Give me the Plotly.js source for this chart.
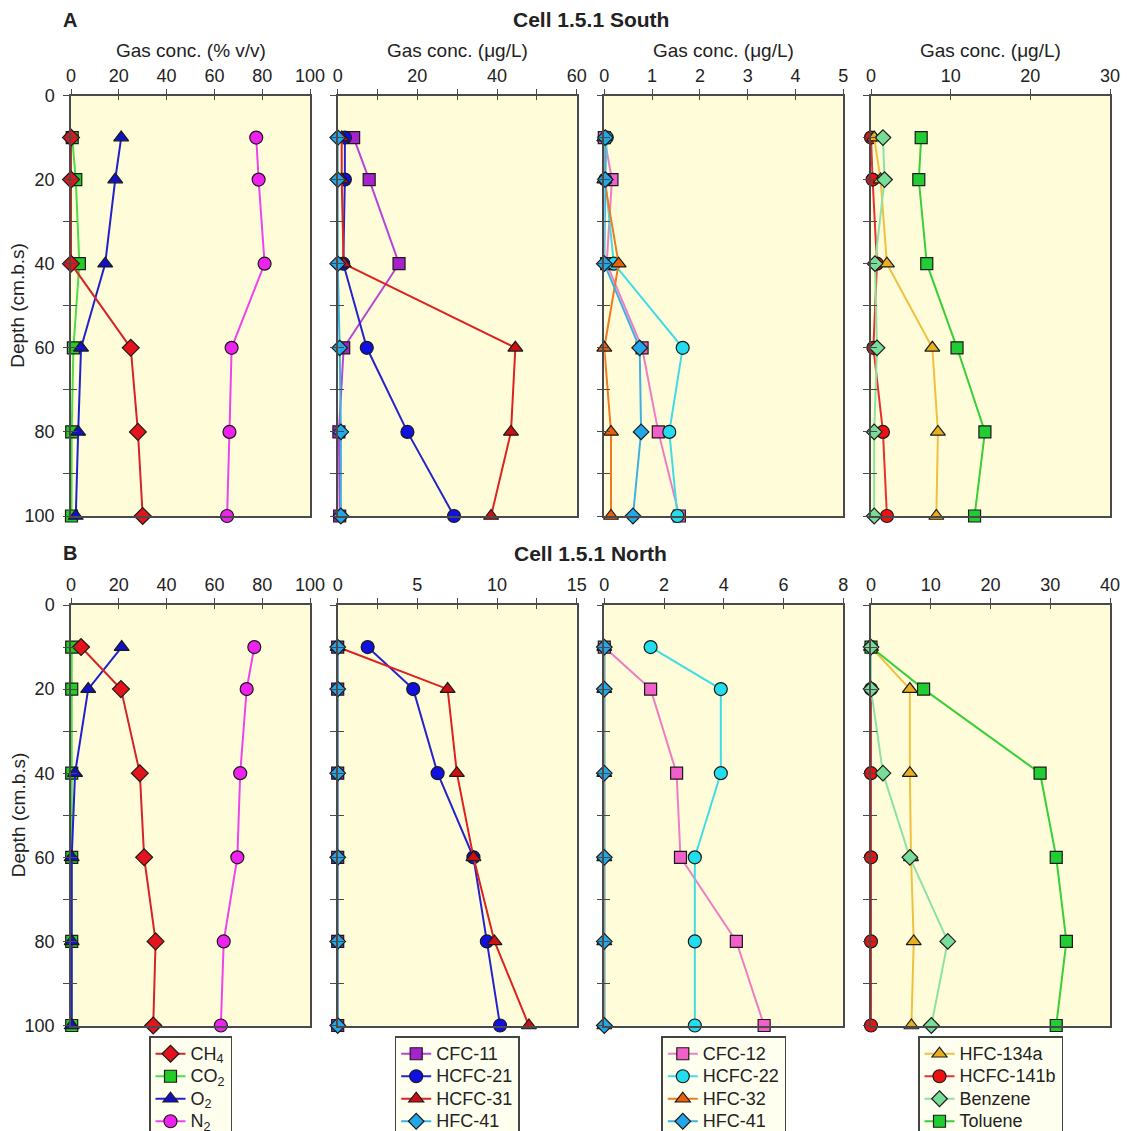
<!DOCTYPE html>
<html>
<head>
<meta charset="utf-8">
<script src="https://cdn.plot.ly/plotly-3.0.1.min.js"></script>
<style>html,body{margin:0;padding:0;background:#fff;}</style>
</head>
<body>
<div id="chart" style="width:1127px;height:1131px;"></div>
<script>
// Sampling depths (cm below surface)
const depth = [10, 20, 40, 60, 80, 100];

// ---- Cell 1.5.1 South ----
// bulk gases (% v/v)
const southCH4 = [0, 0, 0, 25, 28, 30];
const southCO2 = [0.5, 2, 3.5, 1, 0.3, 0.2];
const southO2 = [21, 18.5, 14.3, 4.2, 3, 2];
const southN2 = [77.5, 78.5, 81, 67.2, 66.3, 65.3];
// CFC-11 and its degradation products (µg/L)
const southCFC11 = [4.0, 7.9, 15.4, 1.5, 0.3, 0.5];
const southHCFC21 = [1.8, 1.8, 1.4, 7.3, 17.5, 29.2];
const southHCFC31 = [1, 1, 1.5, 44.6, 43.5, 38.5];
const southHFC41a = [0, 0, 0, 0.5, 0.8, 0.8];
// CFC-12 and its degradation products (µg/L)
const southCFC12 = [0, 0.16, 0.05, 0.79, 1.13, 1.57];
const southHCFC22 = [0.05, 0.02, 0.2, 1.64, 1.36, 1.53];
const southHFC32 = [0, 0, 0.3, 0, 0.14, 0.14];
const southHFC41b = [0.02, 0.02, 0, 0.74, 0.77, 0.6];
// other halocarbons and aromatics (µg/L)
const southHFC134a = [0.4, 1.2, 2.0, 7.7, 8.4, 8.2];
const southHCFC141b = [0, 0.2, 0.75, 0.3, 1.5, 2.0];
const southBenzene = [1.5, 1.7, 0.5, 0.75, 0.4, 0.4];
const southToluene = [6.3, 6.0, 7.0, 10.8, 14.3, 13.0];

// ---- Cell 1.5.1 North ----
const northCH4 = [4.2, 20.9, 28.8, 30.6, 35.4, 34.4];
const northCO2 = [0.3, 0.3, 0.3, 0.3, 0.3, 0.3];
const northO2 = [21.2, 7.2, 1.7, 0.3, 0.3, 0.3];
const northN2 = [76.7, 73.5, 70.8, 69.6, 63.9, 62.7];
const northCFC11 = [0, 0, 0, 0, 0, 0];
const northHCFC21 = [1.88, 4.74, 6.27, 8.52, 9.36, 10.19];
const northHCFC31 = [0, 6.9, 7.48, 8.52, 9.84, 12.0];
const northHFC41a = [0, 0, 0, 0, 0, 0];
const northCFC12 = [0, 1.55, 2.42, 2.55, 4.42, 5.35];
const northHCFC22 = [1.55, 3.9, 3.9, 3.03, 3.03, 3.03];
const northHFC32 = [0, 0, 0, 0, 0, 0];
const northHFC41b = [0, 0, 0, 0, 0, 0];
const northHFC134a = [0, 6.5, 6.5, 6.7, 7.15, 6.76];
const northHCFC141b = [0, 0, 0, 0, 0, 0];
const northBenzene = [0, 0, 2.0, 6.5, 12.85, 10.1];
const northToluene = [0, 8.8, 28.3, 31.0, 32.7, 31.0];

// Series labels
const labels = {
  CH4: 'CH<sub>4</sub>', CO2: 'CO<sub>2</sub>', O2: 'O<sub>2</sub>', N2: 'N<sub>2</sub>',
  CFC11: 'CFC-11', HCFC21: 'HCFC-21', HCFC31: 'HCFC-31', HFC41: 'HFC-41',
  CFC12: 'CFC-12', HCFC22: 'HCFC-22', HFC32: 'HFC-32',
  HFC134a: 'HFC-134a', HCFC141b: 'HCFC-141b', Benzene: 'Benzene', Toluene: 'Toluene'
};

// Styles: marker symbol, marker fill, line colour
const styles = {
  CH4:      {symbol: 'diamond', size: 13, fill: '#E3141C', line: '#D42429'},
  CO2:      {symbol: 'square', size: 12, fill: '#22CC22', line: '#4CDD4C'},
  O2:       {symbol: 'triangle-up', size: 13, fill: '#1212C4', line: '#2020CC'},
  N2:       {symbol: 'circle', size: 13, fill: '#EE22EE', line: '#EE44EE'},
  CFC11:    {symbol: 'square', size: 12, fill: '#A822CC', line: '#B544D8'},
  HCFC21:   {symbol: 'circle', size: 13, fill: '#1010E0', line: '#2424CC'},
  HCFC31:   {symbol: 'triangle-up', size: 13, fill: '#CC1111', line: '#DD2222'},
  HFC41:    {symbol: 'diamond', size: 12, fill: '#22A8E8', line: '#3DB0E4'},
  CFC12:    {symbol: 'square', size: 12, fill: '#F060C8', line: '#F07CC4'},
  HCFC22:   {symbol: 'circle', size: 13, fill: '#22DDEE', line: '#40DCE6'},
  HFC32:    {symbol: 'triangle-up', size: 13, fill: '#E8600A', line: '#F07A22'},
  HFC134a:  {symbol: 'triangle-up', size: 13, fill: '#E8B020', line: '#F0C040'},
  HCFC141b: {symbol: 'circle', size: 13, fill: '#EE1111', line: '#E83030'},
  Benzene:  {symbol: 'diamond', size: 12, fill: '#77DD99', line: '#8CE2A6'},
  Toluene:  {symbol: 'square', size: 12, fill: '#22CC33', line: '#38D038'}
};

// Panel groups: series keys in drawing order; legend order given separately
const groups = [
  {draw: ['N2', 'CO2', 'O2', 'CH4'], legend: ['CH4', 'CO2', 'O2', 'N2'],
   south: {CH4: southCH4, CO2: southCO2, O2: southO2, N2: southN2},
   north: {CH4: northCH4, CO2: northCO2, O2: northO2, N2: northN2}},
  {draw: ['CFC11', 'HCFC21', 'HCFC31', 'HFC41'], legend: ['CFC11', 'HCFC21', 'HCFC31', 'HFC41'],
   south: {CFC11: southCFC11, HCFC21: southHCFC21, HCFC31: southHCFC31, HFC41: southHFC41a},
   north: {CFC11: northCFC11, HCFC21: northHCFC21, HCFC31: northHCFC31, HFC41: northHFC41a}},
  {draw: ['CFC12', 'HCFC22', 'HFC32', 'HFC41'], legend: ['CFC12', 'HCFC22', 'HFC32', 'HFC41'],
   south: {CFC12: southCFC12, HCFC22: southHCFC22, HFC32: southHFC32, HFC41: southHFC41b},
   north: {CFC12: northCFC12, HCFC22: northHCFC22, HFC32: northHFC32, HFC41: northHFC41b}},
  {draw: ['HCFC141b', 'HFC134a', 'Toluene', 'Benzene'], legend: ['HFC134a', 'HCFC141b', 'Benzene', 'Toluene'],
   south: {HFC134a: southHFC134a, HCFC141b: southHCFC141b, Benzene: southBenzene, Toluene: southToluene},
   north: {HFC134a: northHFC134a, HCFC141b: northHCFC141b, Benzene: northBenzene, Toluene: northToluene}}
];

// Concentration axes: [max, tick step, label step] per row and column
const xScalesSouth = [[100, 20, 20], [60, 10, 20], [5, 1, 1], [30, 10, 10]];
const xScalesNorth = [[100, 20, 20], [15, 2.5, 5], [8, 2, 2], [40, 10, 10]];
const xTitles = ['Gas conc. (% v/v)', 'Gas conc. (\u03bcg/L)', 'Gas conc. (\u03bcg/L)', 'Gas conc. (\u03bcg/L)'];

// Figure geometry (pixels)
const W = 1127, H = 1131;
const colLeft = [71, 337.7, 604.3, 871];
const colWidth = 239;
const rowTop = [95.5, 605];
const rowHeight = 420.5;
const legendTop = 1036;
const fx = p => p / W;
const fy = p => 1 - p / H;

const FONT = 'Liberation Sans, Arial, Helvetica, sans-serif';
const TXT = '#222222';
const AXC = '#4a4a4a';

function ticks(max, step, labelStep, showLabels) {
  const vals = [], text = [];
  const n = Math.round(max / step);
  for (let i = 0; i <= n; i++) {
    const v = +(i * step).toFixed(6);
    vals.push(v);
    const isLabel = Math.abs(v / labelStep - Math.round(v / labelStep)) < 1e-6;
    text.push(showLabels && isLabel ? String(v) : '');
  }
  return {vals, text};
}

const traces = [];
const layout = {
  width: W, height: H,
  margin: {l: 0, r: 0, t: 0, b: 0, autoexpand: false},
  paper_bgcolor: '#ffffff',
  plot_bgcolor: '#FFFDD9',
  font: {family: FONT, size: 18, color: TXT},
  showlegend: true,
  annotations: []
};

let axisN = 0;
const overlayBase = 8;
for (let r = 0; r < 2; r++) {
  for (let c = 0; c < 4; c++) {
    axisN++;
    const idx = axisN === 1 ? '' : String(axisN);
    const ov = String(overlayBase + axisN);
    const xs = (r === 0 ? xScalesSouth : xScalesNorth)[c];
    const xt = ticks(xs[0], xs[1], xs[2], true);
    const yt = ticks(100, 10, 20, c === 0);
    const xDomain = [fx(colLeft[c]), fx(colLeft[c] + colWidth)];
    const yDomain = [fy(rowTop[r] + rowHeight), fy(rowTop[r])];

    layout['xaxis' + idx] = {
      domain: xDomain, anchor: 'y' + idx, side: 'top', range: [0, xs[0]],
      tickmode: 'array', tickvals: xt.vals, ticktext: xt.text,
      ticks: 'outside', ticklen: 5, tickwidth: 1.3, tickcolor: AXC,
      showline: true, linecolor: AXC, linewidth: 1.5, mirror: true,
      showgrid: false, zeroline: false, fixedrange: true, automargin: false,
      tickfont: {family: FONT, size: 18, color: TXT}
    };
    layout['yaxis' + idx] = {
      domain: yDomain, anchor: 'x' + idx, range: [100, 0],
      tickmode: 'array', tickvals: yt.vals, ticktext: yt.text,
      ticks: 'outside', ticklen: 6, tickwidth: 1.3, tickcolor: AXC,
      ticklabelstandoff: 5,
      showline: true, linecolor: AXC, linewidth: 1.5, mirror: true,
      showgrid: false, zeroline: false, fixedrange: true, automargin: false,
      tickfont: {family: FONT, size: 18, color: TXT}
    };
    // inner halves of the tick marks, so ticks cross the frame
    layout['xaxis' + ov] = {
      overlaying: 'x' + idx, anchor: 'y' + idx, side: 'top', range: [0, xs[0]],
      tickmode: 'array', tickvals: xt.vals, ticktext: xt.vals.map(() => ''),
      ticks: 'inside', ticklen: 4, tickwidth: 1.3, tickcolor: AXC,
      showline: false, showgrid: false, zeroline: false, showticklabels: false,
      fixedrange: true, automargin: false
    };
    layout['yaxis' + ov] = {
      overlaying: 'y' + idx, anchor: 'x' + idx, side: 'left', range: [100, 0],
      tickmode: 'array', tickvals: yt.vals, ticktext: yt.vals.map(() => ''),
      ticks: 'inside', ticklen: 6, tickwidth: 1.3, tickcolor: AXC,
      showline: false, showgrid: false, zeroline: false, showticklabels: false,
      fixedrange: true, automargin: false
    };
    traces.push({type: 'scatter', mode: 'none', x: [], y: [], xaxis: 'x' + ov, yaxis: 'y' + idx,
                 showlegend: false, hoverinfo: 'skip'});
    traces.push({type: 'scatter', mode: 'none', x: [], y: [], xaxis: 'x' + idx, yaxis: 'y' + ov,
                 showlegend: false, hoverinfo: 'skip'});

    const g = groups[c];
    const data = r === 0 ? g.south : g.north;
    const legendId = c === 0 ? 'legend' : 'legend' + (c + 1);
    g.draw.forEach(key => {
      const s = styles[key];
      traces.push({
        type: 'scatter', mode: 'lines+markers',
        x: data[key], y: depth,
        xaxis: 'x' + idx, yaxis: 'y' + idx,
        // legend rows are spaced by the (smaller) legend font; the label itself is drawn at 18px
        name: '<span style="font-size:18px">' + labels[key] + '</span>',
        legend: legendId,
        legendrank: g.legend.indexOf(key) + 1,
        showlegend: r === 1,
        line: {color: s.line, width: 2},
        marker: {symbol: s.symbol, size: s.size, color: s.fill, line: {color: '#1a1a1a', width: 1.2}},
        cliponaxis: false,
        hoverinfo: 'x+y+name'
      });
    });

    // legend boxes below the lower row
    if (r === 1) {
      layout[legendId] = {
        x: fx(colLeft[c] + colWidth / 2), xanchor: 'center', xref: 'paper',
        y: fy(legendTop), yanchor: 'top', yref: 'paper',
        bgcolor: '#FFFFF0', bordercolor: '#444444', borderwidth: 1.5,
        font: {family: FONT, size: 15, color: TXT},
        tracegroupgap: 0, itemwidth: 30, traceorder: 'normal'
      };
    }

    // axis titles over the upper row
    if (r === 0) {
      layout.annotations.push({
        text: xTitles[c], xref: 'paper', yref: 'paper',
        x: fx(colLeft[c] + colWidth / 2), y: fy(50), xanchor: 'center', yanchor: 'middle',
        showarrow: false, font: {family: FONT, size: 19, color: TXT}
      });
    }
    if (c === 0) {
      layout.annotations.push({
        text: 'Depth (cm.b.s)', xref: 'paper', yref: 'paper', textangle: -90,
        x: fx(18), y: fy(rowTop[r] + rowHeight / 2), xanchor: 'center', yanchor: 'middle',
        showarrow: false, font: {family: FONT, size: 19, color: TXT}
      });
    }
  }
}

// Row headings
const headings = [
  {letter: 'A', title: 'Cell 1.5.1 South', y: 20},
  {letter: 'B', title: 'Cell 1.5.1 North', y: 553}
];
headings.forEach(h => {
  layout.annotations.push({
    text: '<b>' + h.letter + '</b>', xref: 'paper', yref: 'paper',
    x: fx(70), y: fy(h.y), xanchor: 'center', yanchor: 'middle', showarrow: false,
    font: {family: FONT, size: 20, color: TXT}
  });
  layout.annotations.push({
    text: '<b>' + h.title + '</b>', xref: 'paper', yref: 'paper',
    x: fx((colLeft[0] + colLeft[3] + colWidth) / 2), y: fy(h.y), xanchor: 'center', yanchor: 'middle',
    showarrow: false, font: {family: FONT, size: 21, color: TXT}
  });
});

Plotly.newPlot('chart', traces, layout, {displayModeBar: false, responsive: false});
</script>
</body>
</html>
